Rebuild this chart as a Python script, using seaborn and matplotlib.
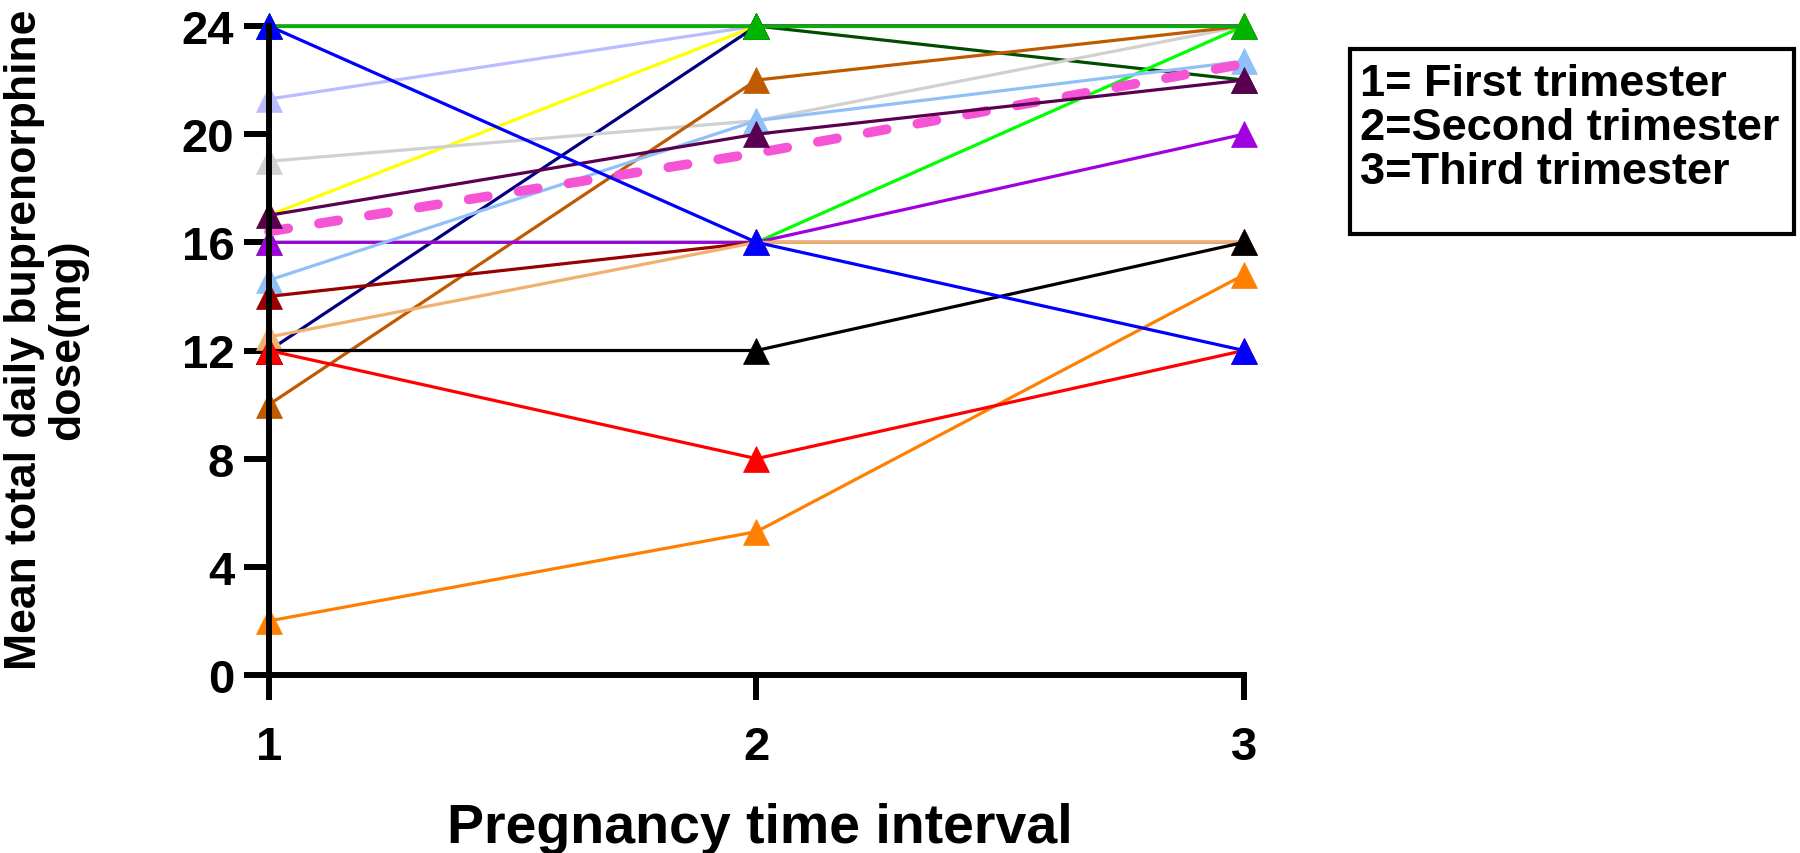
import matplotlib
matplotlib.use("Agg")
import matplotlib.pyplot as plt
from matplotlib.patches import Rectangle
import seaborn as sns
import pandas as pd

# trimesters on the x axis
intervals = [1, 2, 3]

# one series per participant (dose in mg at trimester 1, 2, 3), in draw order
lavender = [21.3, 24, 24]
yellow = [17, 24, 24]
navy = [12, 24, 24]
dark_green = [24, 24, 22]
gray = [19, 20.5, 24]
bright_green = [16, 16, 24]
brown = [10, 22, 24]
purple = [16, 16, 20]
light_blue = [14.6, 20.5, 22.7]
dark_red = [14, 16, 16]
light_orange = [12.5, 16, 16]
dark_purple = [17, 20, 22]
green = [24, 24, 24]
black = [12, 12, 16]
orange = [2, 5.3, 14.8]
red = [12, 8, 12]
blue = [24, 16, 12]

# mean of all participants (dashed pink)
mean_dose = [16.4, 19.3, 22.6]

series = {
    "lavender": (lavender, "#BBBBFF"),
    "yellow": (yellow, "#FFFF00"),
    "navy": (navy, "#000080"),
    "dark_green": (dark_green, "#004D00"),
    "gray": (gray, "#D0D0D0"),
    "bright_green": (bright_green, "#00FF00"),
    "brown": (brown, "#C05A00"),
    "purple": (purple, "#A000E0"),
    "light_blue": (light_blue, "#90C0F8"),
    "dark_red": (dark_red, "#990000"),
    "light_orange": (light_orange, "#F0B070"),
    "dark_purple": (dark_purple, "#5A0050"),
    "green": (green, "#00B400"),
    "black": (black, "#000000"),
    "orange": (orange, "#FF8000"),
    "red": (red, "#FF0000"),
    "blue": (blue, "#0000FF"),
}

rows = []
for name, (vals, col) in series.items():
    for x, v in zip(intervals, vals):
        rows.append({"interval": x, "dose": v, "subject": name})
df = pd.DataFrame(rows)
palette = {name: col for name, (vals, col) in series.items()}
order = list(series.keys())

sns.set_style("ticks")
plt.rcParams["font.family"] = ["Liberation Sans", "DejaVu Sans"]
plt.rcParams["font.weight"] = "bold"
plt.rcParams["text.color"] = "black"
plt.rcParams["axes.edgecolor"] = "black"
plt.rcParams["xtick.color"] = "black"
plt.rcParams["ytick.color"] = "black"

fig = plt.figure(figsize=(18, 8.54), dpi=100)
ax = fig.add_axes([269 / 1800, 1 - 676 / 854, (1244 - 269) / 1800, (676 - 27) / 854])

mean_df = pd.DataFrame({"interval": intervals, "dose": mean_dose})

# participants drawn under the mean line, then the rest on top
before = order[:order.index("light_orange") + 1]
after = order[order.index("light_orange") + 1:]

sns.lineplot(data=df[df["subject"].isin(before)], x="interval", y="dose",
             hue="subject", hue_order=before, palette=palette, marker="^",
             markersize=19, markeredgewidth=0.5, linewidth=2.3, legend=False,
             clip_on=False, ax=ax)
sns.lineplot(data=mean_df, x="interval", y="dose", color="#F555D5", linewidth=7,
             ax=ax, clip_on=False)
ax.lines[-1].set_dashes((2.0, 3.2))
ax.lines[-1].set_dash_capstyle("round")
sns.lineplot(data=df[df["subject"].isin(after)], x="interval", y="dose",
             hue="subject", hue_order=after, palette=palette, marker="^",
             markersize=19, markeredgewidth=0.5, linewidth=2.3, legend=False,
             clip_on=False, ax=ax)

# seaborn gives markers a white edge; the original uses the line colour
for ln in ax.lines:
    ln.set_markeredgecolor(ln.get_color())

ax.set_xlim(1, 3)
ax.set_ylim(0, 24)
ax.set_xticks(intervals)
ax.set_yticks([0, 4, 8, 12, 16, 20, 24])
for s in ["top", "right"]:
    ax.spines[s].set_visible(False)
for s in ["left", "bottom"]:
    ax.spines[s].set_linewidth(4.3)
ax.tick_params(axis="both", length=18, width=4.3, labelsize=34)
ax.tick_params(axis="y", pad=7)
ax.tick_params(axis="x", pad=18)
ax.set_xlabel("")
ax.set_ylabel("")

fig.text(760 / 1800, 1 - 829 / 854, "Pregnancy time interval", ha="center", va="center",
         fontsize=40, fontweight="bold")
fig.text(46 / 1800, 1 - 340 / 854, "Mean total daily buprenorphine\ndose(mg)", ha="center",
         va="center", rotation=90, fontsize=32, fontweight="bold", linespacing=1.08)

# legend-like box
fig.patches.append(Rectangle((1350 / 1800, 1 - 235 / 854), 444 / 1800, 185 / 854,
                             transform=fig.transFigure, fill=False, linewidth=3,
                             edgecolor="black"))
fig.text(1360 / 1800, 1 - 64 / 854, "1= First trimester\n2=Second trimester\n3=Third trimester",
         ha="left", va="top", fontsize=32.5, fontweight="bold", linespacing=1.1)

fig.savefig("out.png", dpi=100)
